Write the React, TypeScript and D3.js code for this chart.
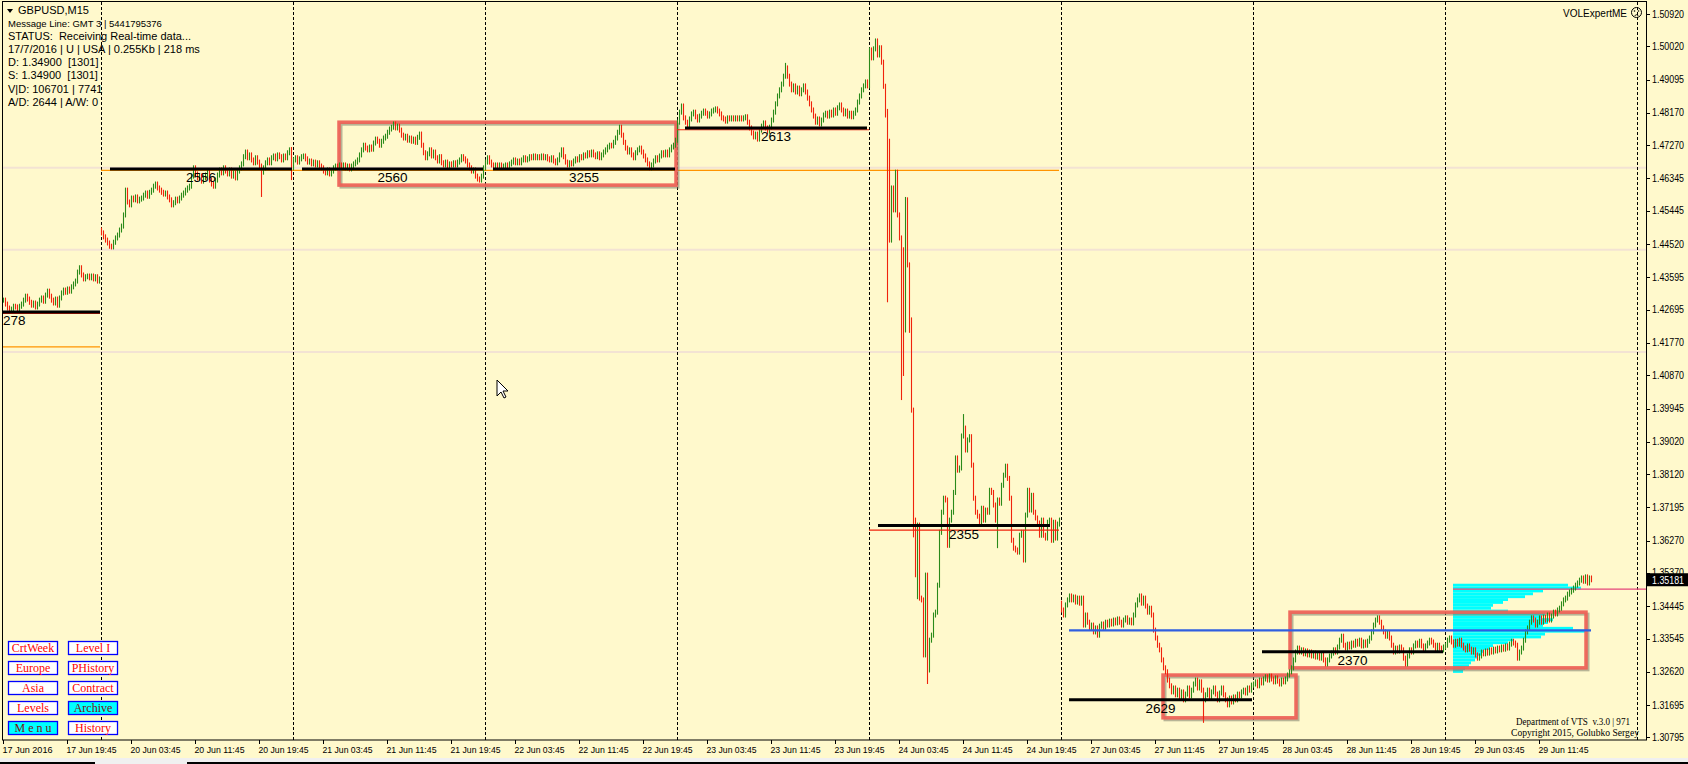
import React, { useEffect } from 'react';
import * as d3 from 'd3';

const WIDTH = 1688;
const HEIGHT = 764;

// ---- Close prices per M15 bar, in pips (price * 10000) ----
const jun17 = [14296,14285,14274,14266,14271,14279,14277,14271,14279,14285,14296,14307,14299,14290,14282,14288,14277,14285,14296,14302,14293,14310,14321,14307,14296,14288,14299,14282,14302,14316,14324,14318,14327,14321,14333,14341,14349,14374,14386,14366,14355,14361,14363,14358,14363,14355,14361,14349,14355];
const jun20 = [14483,14472,14463,14455,14446,14444,14457,14469,14477,14491,
14502,14533,14602,14569,14561,14580,14575,14583,14572,14577,
14580,14588,14594,14585,14596,14602,14613,14619,14608,14602,
14596,14591,14594,14583,14575,14561,14567,14577,14572,14580,
14588,14594,14602,14608,14613,14641,14664,14647,14636,14641,
14627,14636,14644,14652,14630,14619,14613,14630,14644,14658,
14650,14664,14655,14647,14658,14641,14650,14636,14655,14664,
14675,14695,14708,14692,14700,14686,14678,14692,14680,14669,
14652,14664,14678,14686,14678,14692,14697,14689,14700,14695,
14686,14697,14692,14706,14714,14664];
const jun21 = [14686,14692,14680,14689,14695,14697,14689,14680,14683,14675,
14680,14672,14678,14669,14664,14655,14650,14658,14647,14655,
14664,14669,14664,14672,14667,14672,14664,14669,14661,14669,
14675,14680,14686,14700,14714,14727,14719,14714,14722,14716,
14733,14744,14738,14727,14738,14747,14752,14763,14772,14777,
14786,14775,14780,14769,14755,14747,14752,14741,14747,14738,
14744,14735,14749,14758,14727,14706,14692,14703,14714,14697,
14708,14692,14683,14695,14678,14672,14680,14669,14675,14672,
14678,14672,14680,14686,14695,14689,14683,14672,14664,14655,
14658,14641,14633,14630,14641,14664];
const jun22 = [14680,14692,14680,14672,14669,14672,14669,14672,14667,14669,
14672,14669,14675,14680,14686,14678,14683,14678,14686,14692,
14686,14689,14695,14692,14697,14692,14695,14692,14697,14692,
14695,14689,14686,14692,14683,14678,14686,14700,14714,14695,
14680,14672,14678,14675,14683,14689,14686,14695,14692,14700,
14697,14706,14700,14708,14700,14695,14703,14692,14700,14708,
14714,14722,14727,14725,14735,14747,14763,14777,14755,14735,
14719,14708,14714,14700,14692,14706,14714,14719,14708,14697,
14686,14675,14664,14672,14683,14692,14686,14697,14706,14700,
14708,14700,14714,14722,14727,14741];
const jun23 = [14791,14819,14836,14803,14791,14783,14800,14814,14819,14806,
14797,14808,14816,14822,14816,14808,14814,14822,14825,14828,
14822,14814,14803,14800,14794,14803,14800,14803,14800,14803,
14800,14803,14800,14803,14806,14791,14775,14761,14750,14758,
14744,14769,14780,14789,14775,14766,14777,14797,14819,14842,
14864,14881,14897,14919,14942,14919,14897,14881,14892,14875,
14886,14870,14881,14892,14875,14858,14842,14825,14808,14791,
14800,14786,14797,14811,14816,14808,14819,14811,14825,14816,
14831,14839,14825,14814,14822,14808,14816,14806,14816,14825,
14847,14864,14881,14892,14903,14892];
const jun24 = [14992,14970,14995,15017,14978,14998,14958,14891,14811,14738,
14463,14608,14547,14652,14533,14469,14436,14213,14575,14394,
14241,13990,13684,13545,13670,13467,13462,13309,13531,13267,
13350,13364,13420,13428,13503,13650,13706,13745,13740,13614,
13684,13706,13761,13857,13823,13829,13918,13940,13879,13907,
13916,13837,13745,13706,13695,13678,13717,13684,13712,13706,
13767,13761,13726,13684,13740,13731,13781,13809,13834,13800,
13745,13628,13606,13601,13595,13642,13650,13573,13698,13767,
13712,13753,13706,13690,13676,13642,13684,13642,13634,13678,
13684,13628,13678,13634,13673,13684];
const jun27 = [13434,13420,13448,13462,13473,13462,13470,13456,13467,13453,
13467,13392,13420,13400,13384,13392,13373,13384,13364,13389,
13395,13386,13400,13392,13403,13395,13406,13398,13409,13400,
13392,13406,13412,13400,13406,13398,13420,13448,13462,13473,
13453,13467,13445,13428,13439,13420,13378,13356,13336,13323,
13295,13273,13262,13239,13223,13206,13217,13198,13211,13189,
13206,13184,13200,13217,13195,13211,13228,13239,13217,13234,
13211,13184,13198,13211,13189,13206,13217,13200,13184,13203,
13217,13198,13184,13170,13189,13178,13192,13184,13200,13195,
13206,13211,13203,13217,13211,13225];
const jun28 = [13228,13234,13223,13239,13231,13242,13248,13239,13250,13242,
13234,13245,13236,13228,13239,13234,13242,13253,13262,13273,
13295,13317,13328,13317,13323,13312,13320,13309,13317,13306,
13314,13303,13312,13300,13309,13295,13284,13295,13306,13314,
13323,13317,13331,13350,13361,13336,13328,13339,13331,13342,
13336,13347,13339,13350,13334,13345,13336,13347,13356,13373,
13392,13406,13412,13400,13384,13373,13361,13370,13356,13336,
13317,13328,13320,13331,13323,13300,13284,13306,13323,13317,
13334,13342,13336,13347,13334,13323,13334,13342,13350,13345,
13336,13325,13336,13328,13323,13331];
const jun29 = [13336,13350,13356,13345,13336,13347,13339,13350,13336,13328,
13323,13334,13325,13317,13323,13309,13300,13306,13317,13312,
13320,13314,13323,13317,13325,13320,13328,13323,13331,13325,
13334,13328,13339,13347,13342,13336,13300,13317,13328,13350,
13373,13384,13400,13412,13406,13392,13400,13412,13400,13414,
13406,13420,13406,13417,13428,13423,13434,13439,13451,13462,
13467,13478,13484,13489,13495,13503,13509,13517,13523,13514,
13526,13509,13523,13518];

// Session-gap opens [bar, open pips] and long wicks [bar, high pips, low pips]
const gapOpens: [number, number][] = [[49, 14491], [529, 13453]];
const longWicks: [number, number | null, number | null][] = [
  [129, null, 14583], [144, 14722, 14630], [391, 14956, null], [436, 15023, null],
  [442, 14828, 14290], [449, null, 14018], [450, null, 14085], [451, 14583, null],
  [453, null, 14205], [455, null, 13636], [456, null, 13525], [457, null, 13464],
  [462, null, 13228], [480, 13979, null], [497, null, 13606], [600, null, 13120],
];

const priceLabels = ["1.50920","1.50020","1.49095","1.48170","1.47270","1.46345","1.45445","1.44520","1.43595","1.42695","1.41770","1.40870","1.39945","1.39020","1.38120","1.37195","1.36270","1.35370","1.34445","1.33545","1.32620","1.31695","1.30795"];
const timeLabels = ["17 Jun 2016","17 Jun 19:45","20 Jun 03:45","20 Jun 11:45","20 Jun 19:45","21 Jun 03:45","21 Jun 11:45","21 Jun 19:45","22 Jun 03:45","22 Jun 11:45","22 Jun 19:45","23 Jun 03:45","23 Jun 11:45","23 Jun 19:45","24 Jun 03:45","24 Jun 11:45","24 Jun 19:45","27 Jun 03:45","27 Jun 11:45","27 Jun 19:45","28 Jun 03:45","28 Jun 11:45","28 Jun 19:45","29 Jun 03:45","29 Jun 11:45"];
const daySeparatorBars = [49, 145, 241, 337, 433, 529, 625, 721, 817];

// Volume levels (black) with their labels
const levelLabels = ["278","2556","2560","3255","2613","2355","2629","2370"];
const levelPrices = [1.4263,1.4661,1.4661,1.4661,1.4775,1.3669,1.3184,1.3318];
const levelFrom = [0,53.5,149.5,245,341,437.5,533,629.5];
const levelTo = [48.5,144.5,240,336,432,523.5,624.5,720];

const redLinePrices = [1.4259, 1.4770, 1.3656];
const redLineFrom = [0, 337, 433];
const redLineTo = [48.5, 433, 528];

const orangePrices = [1.4166, 1.4657];
const orangeFrom = [0, 49];
const orangeTo = [48.5, 528];

const faintPrices = [1.4664, 1.4436, 1.4152];

const bluePrice = 1.3377, blueFrom = 533, blueTo = 794;
const pinkPrice = 1.3492, pinkFrom = 725, pinkTo = 821.5;

const boxFrom = [168, 580, 643.5];
const boxTo = [336.5, 646.5, 791.5];
const boxTop = [1.4791, 1.3253, 1.3428];
const boxBottom = [1.4616, 1.3134, 1.3273];

const profilePrices = [1.3507,1.3499,1.3491,1.3483,1.3475,1.3467,1.3459,1.3451,1.3443,1.3435,1.3427,1.3419,1.3411,1.3403,1.3395,1.3387,1.3379,1.3371,1.3363,1.3355,1.3347,1.3339,1.3331,1.3323,1.3315,1.3307,1.3299,1.3291,1.3283,1.3275,1.3267];
const profileVolumes = [115,128,90,80,72,55,50,40,38,55,92,88,100,95,90,120,132,92,88,60,55,40,36,30,28,25,22,18,16,12,10];
const PROFILE_STEP = 0.0008;
const profileStartBar = 725;

const currentPrice = 1.35181;

const infoLines = [
  "STATUS:  Receiving Real-time data...",
  "17/7/2016 | U | USA | 0.255Kb | 218 ms",
  "D: 1.34900  [1301]",
  "S: 1.34900  [1301]",
  "V|D: 106701 | 7741",
  "A/D: 2644 | A/W: 0",
];
const buttonsLeft = ["CrtWeek","Europe","Asia","Levels","M e n u"];
const buttonsRight = ["Level I","PHistory","Contract","Archive","History"];
const activeButtons = ["Archive","M e n u"];

const WICK = 0.0007;
const closesPips = [...jun17, ...jun20, ...jun21, ...jun22, ...jun23, ...jun24, ...jun27, ...jun28, ...jun29];

const PLOT = { left: 3, top: 2, right: 1646, bottom: 740 };

export default function App() {
  useEffect(() => {
    document.body.style.margin = '0';
    document.body.style.overflow = 'hidden';
  }, []);

  const x = d3.scaleLinear().domain([0, 794]).range([3, 1591]);
  const y = d3.scaleLinear().domain([1.30795, 1.50920]).range([737.4, 14]);
  const vol = d3.scaleLinear().domain([0, 132]).range([0, 132]);

  const bars = closesPips.map((c, i) => {
    const close = c / 1e4;
    const g = gapOpens.find(o => o[0] === i);
    const open = g ? g[1] / 1e4 : (i === 0 ? close : closesPips[i - 1] / 1e4);
    let high = Math.max(open, close) + WICK;
    let low = Math.min(open, close) - WICK;
    const w = longWicks.find(e => e[0] === i);
    if (w) {
      if (w[1] != null) high = Math.max(high, w[1] / 1e4);
      if (w[2] != null) low = Math.min(low, w[2] / 1e4);
    }
    return { i, open, close, high, low };
  });

  const px = (v: number) => Math.round(v) + 0.5;
  const sans = '"Liberation Sans", Arial, sans-serif';
  const serif = '"Liberation Serif", "Times New Roman", serif';
  const pre = { whiteSpace: 'pre' as const };

  return (
    <svg width={WIDTH} height={HEIGHT} style={{ position: 'absolute', left: 0, top: 0, display: 'block' }}>
      <rect x={0} y={0} width={WIDTH} height={HEIGHT} fill="#FFF9CC" />

      {/* faint level lines */}
      {faintPrices.map((p, k) => (
        <line key={'f' + k} x1={PLOT.left} x2={PLOT.right} y1={y(p)} y2={y(p)} stroke="#F3E3D3" strokeWidth={2} />
      ))}

      {/* day separators */}
      {daySeparatorBars.map((b, k) => (
        <line key={'d' + k} x1={px(x(b))} x2={px(x(b))} y1={PLOT.top} y2={PLOT.bottom} stroke="#000" strokeWidth={1} strokeDasharray="3,2" />
      ))}

      {/* volume profile */}
      {profilePrices.map((p, k) => (
        <rect key={'p' + k} x={x(profileStartBar)} y={y(p)} width={vol(profileVolumes[k])} height={y(p - PROFILE_STEP) - y(p)} fill="#00FFFF" />
      ))}

      {/* orange lines */}
      {orangePrices.map((p, k) => (
        <line key={'o' + k} x1={x(orangeFrom[k])} x2={x(orangeTo[k])} y1={y(p)} y2={y(p)} stroke="#FF9400" strokeWidth={1.2} />
      ))}
      {/* pink line */}
      <line x1={x(pinkFrom)} x2={x(pinkTo)} y1={y(pinkPrice)} y2={y(pinkPrice)} stroke="#E5457A" strokeWidth={1.3} />

      {/* red boxes (shadow + frame) */}
      {boxFrom.map((b, k) => (
        <g key={'b' + k}>
          <rect x={x(b) + 2} y={y(boxTop[k]) + 2} width={x(boxTo[k]) - x(b)} height={y(boxBottom[k]) - y(boxTop[k])} fill="none" stroke="#7d7d6a" strokeOpacity={0.55} strokeWidth={3} />
          <rect x={x(b)} y={y(boxTop[k])} width={x(boxTo[k]) - x(b)} height={y(boxBottom[k]) - y(boxTop[k])} fill="none" stroke="#EE5E55" strokeOpacity={0.92} strokeWidth={3.5} />
        </g>
      ))}

      {/* bars */}
      {bars.map(b => (
        <line key={'k' + b.i} x1={px(x(b.i))} x2={px(x(b.i))} y1={y(b.high)} y2={y(b.low)}
          stroke={b.close >= b.open ? '#2A8A1A' : '#F0230C'} strokeWidth={1.1} />
      ))}

      {/* blue line */}
      <line x1={x(blueFrom)} x2={x(blueTo)} y1={y(bluePrice)} y2={y(bluePrice)} stroke="#2F5FE0" strokeWidth={2.2} />

      {/* red thin lines */}
      {redLinePrices.map((p, k) => (
        <line key={'r' + k} x1={x(redLineFrom[k])} x2={x(redLineTo[k])} y1={y(p)} y2={y(p)} stroke="#F0230C" strokeWidth={1.2} />
      ))}

      {/* black volume levels + labels */}
      {levelPrices.map((p, k) => {
        const x1 = x(levelFrom[k]), x2 = x(levelTo[k]);
        const first = k === 0;
        return (
          <g key={'l' + k}>
            <line x1={x1} x2={x2} y1={y(p)} y2={y(p)} stroke="#000" strokeWidth={3} />
            <text x={first ? x1 : (x1 + x2) / 2} y={y(p) + 13} textAnchor={first ? 'start' : 'middle'}
              fontFamily={sans} fontSize={13.5} fill="#000">{levelLabels[k]}</text>
          </g>
        );
      })}

      {/* plot frame */}
      <rect x={PLOT.left - 0.5} y={PLOT.top - 0.5} width={PLOT.right - PLOT.left + 1} height={PLOT.bottom - PLOT.top + 0.5} fill="none" stroke="#000" strokeWidth={1} />

      {/* price axis */}
      {priceLabels.map((t, k) => {
        const yy = y(parseFloat(t));
        return (
          <g key={'pa' + k}>
            <line x1={PLOT.right} x2={PLOT.right + 4} y1={Math.round(yy) + 0.5} y2={Math.round(yy) + 0.5} stroke="#000" />
            <text x={1652} y={yy + 3.5} fontFamily={sans} fontSize={10} textLength={32} lengthAdjust="spacingAndGlyphs" fill="#000">{t}</text>
          </g>
        );
      })}
      <rect x={PLOT.right + 0.5} y={y(currentPrice) - 6.5} width={WIDTH - PLOT.right} height={13} fill="#000" />
      <text x={1652} y={y(currentPrice) + 4} fontFamily={sans} fontSize={10} textLength={32} lengthAdjust="spacingAndGlyphs" fill="#fff">{currentPrice.toFixed(5)}</text>

      {/* time axis */}
      {timeLabels.map((t, k) => {
        const xx = px(x(k * 32));
        return (
          <g key={'ta' + k}>
            <line x1={xx} x2={xx} y1={PLOT.bottom} y2={PLOT.bottom + 4} stroke="#000" />
            <text x={xx - 1} y={753} fontFamily={sans} fontSize={9.5} textLength={50} lengthAdjust="spacingAndGlyphs" fill="#000">{t}</text>
          </g>
        );
      })}
      <rect x={0} y={758} width={WIDTH} height={6} fill="#F0F0F0" />
      <rect x={0} y={762} width={95} height={2} fill="#000" />
      <rect x={187} y={762} width={WIDTH - 187} height={2} fill="#000" />

      {/* top-left info */}
      <path d="M7,9 L13,9 L10,13 Z" fill="#000" />
      <text x={18} y={14} fontFamily={sans} fontSize={11} fill="#000">GBPUSD,M15</text>
      <text x={8} y={27} fontFamily={sans} fontSize={9.5} fill="#000" style={pre}>Message Line: GMT 3 | 5441795376</text>
      {infoLines.map((t, k) => (
        <text key={'i' + k} x={8} y={39.5 + k * 13.3} fontFamily={sans} fontSize={11} fill="#000" style={pre}>{t}</text>
      ))}

      {/* top-right */}
      <text x={1627} y={17} textAnchor="end" fontFamily={sans} fontSize={10} fill="#000">VOLExpertME</text>
      <circle cx={1636.5} cy={12.5} r={5} fill="none" stroke="#000" strokeWidth={1} />
      <circle cx={1634.5} cy={11} r={0.8} fill="#000" />
      <circle cx={1638.5} cy={11} r={0.8} fill="#000" />
      <path d="M1634.5,15.8 Q1636.5,13.6 1638.5,15.8" fill="none" stroke="#000" strokeWidth={0.9} />

      {/* copyright */}
      <text x={1516} y={725} fontFamily={serif} fontSize={10} textLength={114} lengthAdjust="spacingAndGlyphs" fill="#000" style={pre}>Department of VTS  v.3.0 | 971</text>
      <text x={1511} y={736} fontFamily={serif} fontSize={10} textLength={128} lengthAdjust="spacingAndGlyphs" fill="#000">Copyright 2015, Golubko Sergey</text>

      {/* buttons */}
      {[buttonsLeft, buttonsRight].map((col, c) => col.map((t, r) => {
        const bx = c === 0 ? 8.5 : 68.5;
        const by = 641.5 + r * 20;
        const active = activeButtons.includes(t);
        return (
          <g key={'btn' + c + r}>
            <rect x={bx} y={by} width={49} height={13} fill={active ? '#00FFFF' : '#FFFFFF'} stroke="#0000FF" strokeWidth={1.3} />
            <text x={bx + 24.5} y={by + 10.5} textAnchor="middle" fontFamily={serif} fontSize={12} fill={active ? '#7a1010' : '#FF0000'}>{t}</text>
          </g>
        );
      }))}

      {/* mouse cursor */}
      <path d="M497,380 L497,396 L501,392 L504,398 L506,397 L503,391 L508,391 Z" fill="#fff" stroke="#000" strokeWidth={1} />
    </svg>
  );
}
